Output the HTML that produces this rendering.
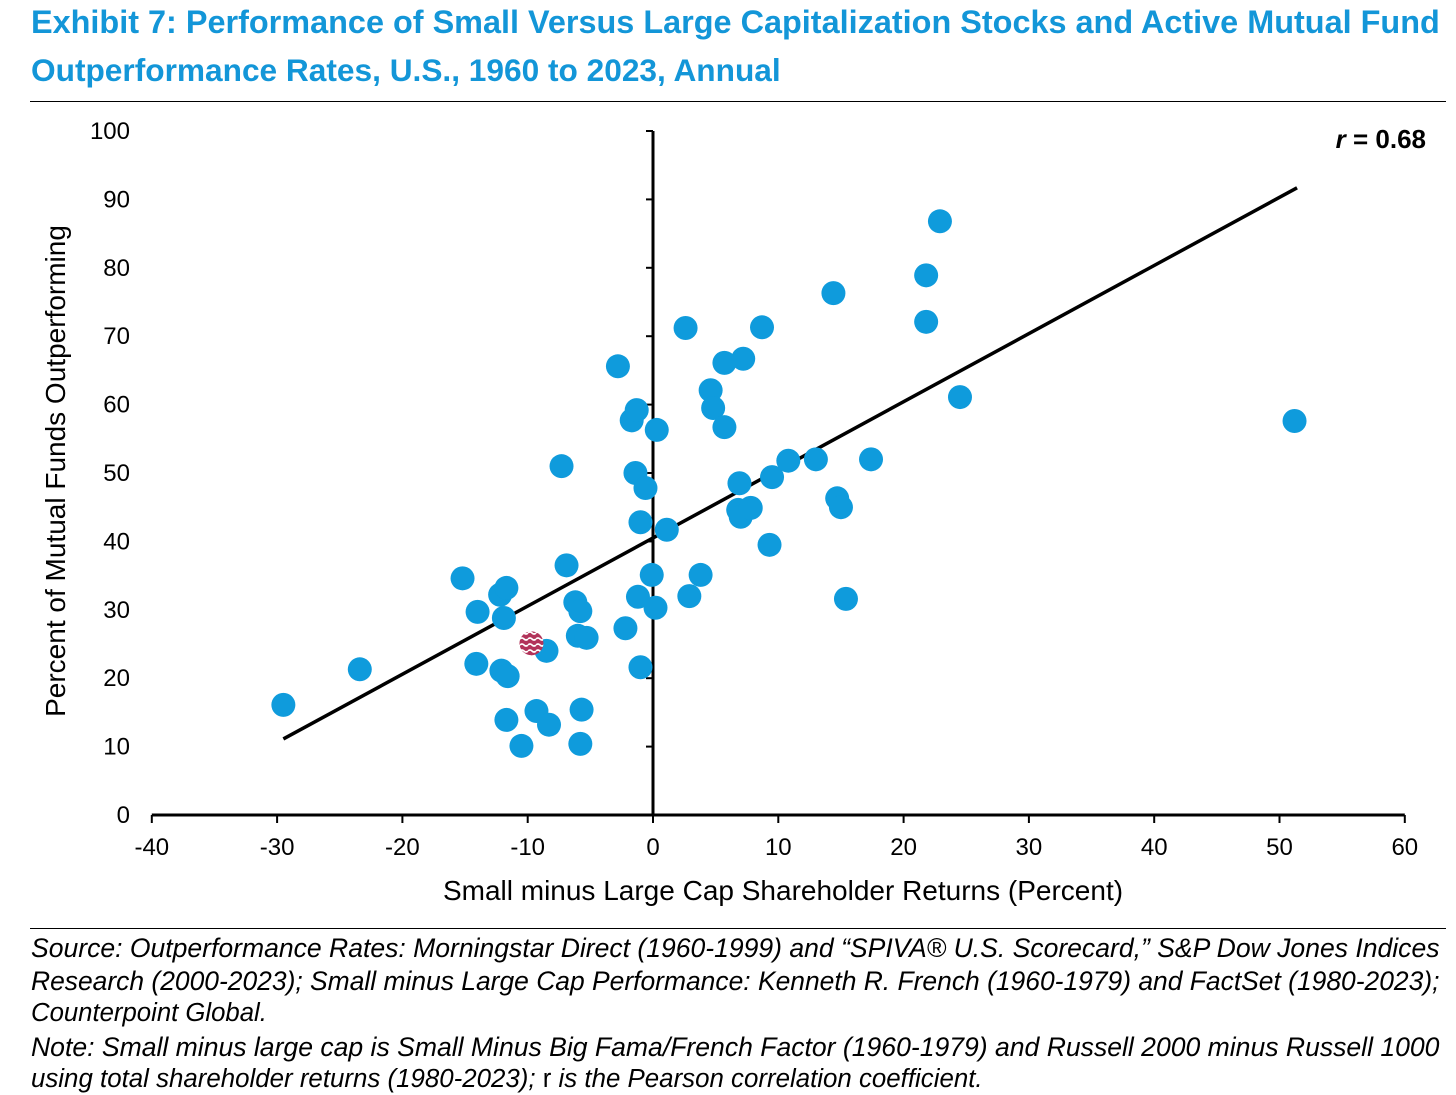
<!DOCTYPE html>
<html><head><meta charset="utf-8"><style>
body{margin:0;background:#fff;width:1456px;height:1095px;overflow:hidden;font-family:"Liberation Sans",Arial,sans-serif}
.fit{position:absolute;white-space:nowrap}
.t{color:#1396d8;font-weight:bold;font-size:28px;left:31px}
.f{font-style:italic;font-size:23px;left:31px;color:#000}
.rule{position:absolute;left:30px;width:1416px;height:1px;background:#000}
</style></head><body>
<div class="fit t" style="top:4px" data-w="1409">Exhibit 7: Performance of Small Versus Large Capitalization Stocks and Active Mutual Fund</div>
<div class="fit t" style="top:52px" data-w="750">Outperformance Rates, U.S., 1960 to 2023, Annual</div>
<div class="rule" style="top:101px"></div>
<svg id="chart" width="1456" height="1095" style="position:absolute;left:0;top:0">
<defs><pattern id="wave" width="8" height="6" patternUnits="userSpaceOnUse"><rect width="8" height="6" fill="#b2335a"/><path d="M0 3 Q2 1 4 3 T8 3" stroke="#fff" stroke-width="1.6" fill="none"/></pattern></defs>
</svg>
<div class="rule" style="top:928px"></div>
<div class="fit f" style="top:933px" data-w="1409">Source: Outperformance Rates: Morningstar Direct (1960-1999) and “SPIVA® U.S. Scorecard,” S&amp;P Dow Jones Indices</div>
<div class="fit f" style="top:966px" data-w="1409">Research (2000-2023); Small minus Large Cap Performance: Kenneth R. French (1960-1979) and FactSet (1980-2023);</div>
<div class="fit f" style="top:999px" data-w="236">Counterpoint Global.</div>
<div class="fit f" style="top:1032px" data-w="1409">Note: Small minus large cap is Small Minus Big Fama/French Factor (1960-1979) and Russell 2000 minus Russell 1000</div>
<div class="fit f" style="top:1065px" data-w="952">using total shareholder returns (1980-2023); <span style="font-style:normal">r</span> is the Pearson correlation coefficient.</div>
<script>
const xVals=[-29.5,-23.4,-15.2,-14.0,-14.1,-12.2,-11.7,-11.9,-12.1,-11.6,-11.7,-10.5,-9.3,-8.3,-8.5,-7.3,-6.9,-6.2,-5.8,-6.0,-5.3,-5.7,-5.8,-2.8,-2.2,-1.7,-1.3,-1.4,-0.6,-1.0,-1.2,-1.0,-0.1,0.2,0.3,1.1,2.6,2.9,3.8,4.6,4.8,5.7,5.7,7.2,6.9,6.8,7.0,7.8,8.7,9.3,9.5,10.8,13.0,14.4,14.7,15.0,15.4,17.4,21.8,21.8,22.9,24.5,51.2];
const yVals=[16.1,21.3,34.6,29.7,22.1,32.2,33.2,28.8,21.1,20.3,13.9,10.1,15.2,13.2,24.0,51.0,36.5,31.1,29.8,26.2,25.9,15.4,10.4,65.6,27.3,57.7,59.2,50.0,47.8,42.8,31.9,21.6,35.1,30.3,56.3,41.7,71.2,32.0,35.1,62.1,59.5,66.1,56.7,66.7,48.5,44.6,43.6,44.9,71.3,39.5,49.4,51.8,52.0,76.3,46.3,45.0,31.6,52.0,78.9,72.1,86.8,61.1,57.6];
const highlight=[-9.7,25.1];
const fitX=[-29.5,51.4];
const fitSlope=0.996, fitIntercept=40.5;
const xTicks=[-40,-30,-20,-10,0,10,20,30,40,50,60];
const yTicks=[0,10,20,30,40,50,60,70,80,90,100];
const X=v=>653+v*12.53, Y=v=>815-v*6.84;
const svg=document.getElementById('chart'),NS='http://www.w3.org/2000/svg';
function mk(t,a,p){const e=document.createElementNS(NS,t);for(const k in a)e.setAttribute(k,a[k]);(p||svg).appendChild(e);return e;}
let e=mk('line',{x1:X(-40),x2:X(60),y1:Y(0),y2:Y(0),stroke:'#000','stroke-width':3});

e=mk('line',{x1:X(0),x2:X(0),y1:Y(100),y2:Y(0),stroke:'#000','stroke-width':3});

xTicks.forEach(t=>{mk('line',{x1:X(t),x2:X(t),y1:Y(0),y2:Y(0)+8,stroke:'#000','stroke-width':2});
 const l=mk('text',{x:X(t),y:855,'text-anchor':'middle','font-size':24,fill:'#000'});l.textContent=t;
 });
yTicks.forEach(t=>{mk('line',{x1:X(0)-7,x2:X(0),y1:Y(t),y2:Y(t),stroke:'#000','stroke-width':2});
 const l=mk('text',{x:130,y:Y(t)+8,'text-anchor':'end','font-size':24,fill:'#000'});l.textContent=t;
 });
e=mk('line',{x1:X(fitX[0]),y1:Y(fitIntercept+fitSlope*fitX[0]),x2:X(fitX[1]),y2:Y(fitIntercept+fitSlope*fitX[1]),stroke:'#000','stroke-width':3.5});

xVals.forEach((x,i)=>{const c=mk('circle',{cx:X(x),cy:Y(yVals[i]),r:12,fill:'#0f9bdc'});
 });
e=mk('circle',{cx:X(highlight[0]),cy:Y(highlight[1]),r:12,fill:'url(#wave)'});

e=mk('text',{x:1426,y:148,'text-anchor':'end','font-size':26,'font-weight':'bold'});
e.innerHTML='<tspan font-style="italic">r</tspan> = 0.68';

e=mk('text',{x:783,y:900,'text-anchor':'middle','font-size':28});e.textContent='Small minus Large Cap Shareholder Returns (Percent)';

e=mk('text',{x:0,y:0,'text-anchor':'middle','font-size':28,transform:'translate(65,471) rotate(-90)'});e.textContent='Percent of Mutual Funds Outperforming';

document.querySelectorAll('.fit').forEach(d=>{const w=+d.dataset.w;
 const cur=d.getBoundingClientRect().width;const fs=parseFloat(getComputedStyle(d).fontSize);
 d.style.fontSize=(fs*w/cur)+'px';});
</script>
</body></html>
